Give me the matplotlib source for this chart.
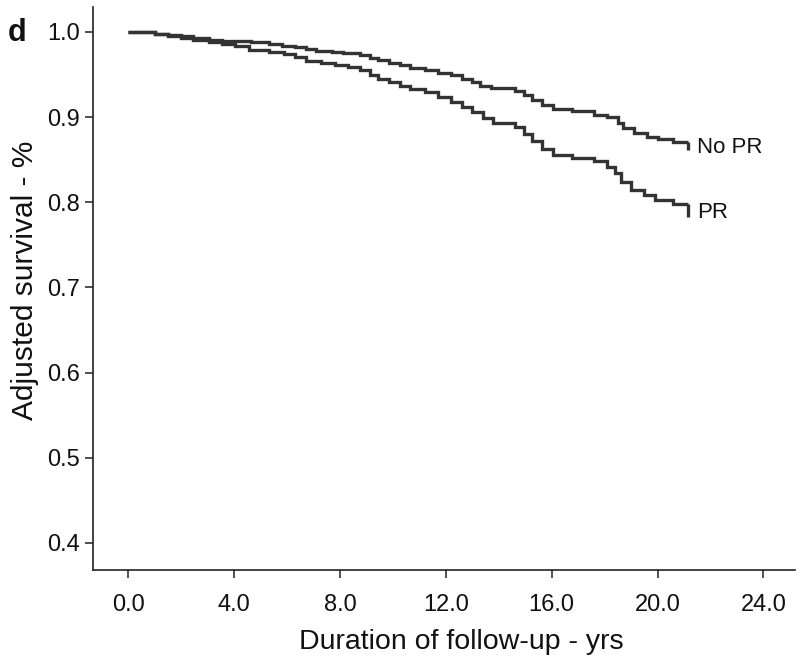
import matplotlib
matplotlib.use("Agg")
import matplotlib.pyplot as plt

plt.rcParams['font.family'] = ['Liberation Sans', 'DejaVu Sans']

# Follow-up time (years) and adjusted survival
no_pr_time = [0.0, 1.0, 1.5, 2.0, 2.45, 3.05, 3.55, 4.05, 4.65, 5.3, 5.8, 6.3, 6.7,
              7.1, 7.7, 8.1, 8.75, 9.15, 9.45, 9.85, 10.25, 10.65, 11.2, 11.7,
              12.2, 12.6, 13.0, 13.3, 13.7, 14.6, 14.95, 15.25, 15.65, 16.05,
              16.75, 17.6, 18.1, 18.5, 18.7, 19.1, 19.6, 20.0, 20.6, 21.15]
no_pr_surv = [1.000, 0.998, 0.996, 0.995, 0.993, 0.991, 0.990, 0.989, 0.988, 0.986,
              0.984, 0.982, 0.980, 0.978, 0.977, 0.975, 0.973, 0.970, 0.967, 0.964,
              0.961, 0.958, 0.955, 0.952, 0.949, 0.945, 0.941, 0.937, 0.934, 0.931,
              0.926, 0.920, 0.914, 0.909, 0.907, 0.903, 0.900, 0.893, 0.887, 0.881,
              0.877, 0.874, 0.871, 0.871]
no_pr_censor_low = 0.862

pr_time = [0.0, 1.0, 1.5, 2.0, 2.45, 3.05, 3.55, 4.05, 4.55, 5.3, 5.9, 6.3, 6.7,
           7.3, 7.8, 8.3, 8.75, 9.15, 9.45, 9.85, 10.25, 10.65, 11.2, 11.7, 12.2,
           12.6, 13.0, 13.4, 13.8, 14.6, 14.95, 15.25, 15.65, 16.05, 16.75, 17.6,
           18.1, 18.4, 18.6, 19.0, 19.5, 19.9, 20.6, 21.15]
pr_surv = [1.000, 0.998, 0.995, 0.993, 0.991, 0.988, 0.986, 0.983, 0.979, 0.976,
           0.974, 0.971, 0.966, 0.963, 0.961, 0.959, 0.955, 0.950, 0.945, 0.941,
           0.937, 0.933, 0.929, 0.924, 0.918, 0.912, 0.906, 0.899, 0.893, 0.889,
           0.880, 0.872, 0.863, 0.855, 0.852, 0.848, 0.842, 0.834, 0.824, 0.814,
           0.808, 0.803, 0.798, 0.798]
pr_censor_low = 0.783

series_labels = ["No PR", "PR"]
x_ticks = [0, 4, 8, 12, 16, 20, 24]
y_ticks = [0.4, 0.5, 0.6, 0.7, 0.8, 0.9, 1.0]

line_color = "#333333"

fig = plt.figure(figsize=(8.0, 6.63), dpi=100)
ax = fig.add_axes([0.116, 0.140, 0.878, 0.849])

for t, s, low, lab in [(no_pr_time, no_pr_surv, no_pr_censor_low, series_labels[0]),
                       (pr_time, pr_surv, pr_censor_low, series_labels[1])]:
    ax.plot(t, s, drawstyle="steps-post", color=line_color, lw=2.4,
            solid_joinstyle="miter", solid_capstyle="butt")
    ax.plot([t[-1], t[-1]], [s[-1], low], color=line_color, lw=2.4,
            solid_capstyle="butt")
    ax.text(t[-1] + 0.35, (s[-1] + low) / 2 - 0.002, lab, fontsize=16, va="center",
            ha="left", color="#111111")

ax.set_xlim(-1.34, 25.2)
ax.set_ylim(0.368, 1.029)
ax.set_xticks(x_ticks)
ax.set_xticklabels([f"{v:.1f}" for v in x_ticks])
ax.set_yticks(y_ticks)
ax.set_yticklabels([f"{v:.1f}" for v in y_ticks])

for side in ["top", "right"]:
    ax.spines[side].set_visible(False)
for side in ["left", "bottom"]:
    ax.spines[side].set_linewidth(1.2)
    ax.spines[side].set_color("#222222")

ax.tick_params(axis="both", direction="out", length=6, width=1.1,
               colors="#222222", labelsize=17, labelcolor="#111111", pad=3)
ax.tick_params(axis="x", pad=11)

ax.set_xlabel("Duration of follow-up - yrs", fontsize=20.5, color="#111111")
ax.set_ylabel("Adjusted survival - %", fontsize=21.5, color="#111111")
ax.xaxis.set_label_coords(0.524, -0.105)
ax.yaxis.set_label_coords(-0.077, 0.515)

fig.text(0.010, 0.950, "d", fontsize=22, fontweight="bold", color="#111111",
         ha="left", va="center")

fig.savefig("out.png", dpi=100)
